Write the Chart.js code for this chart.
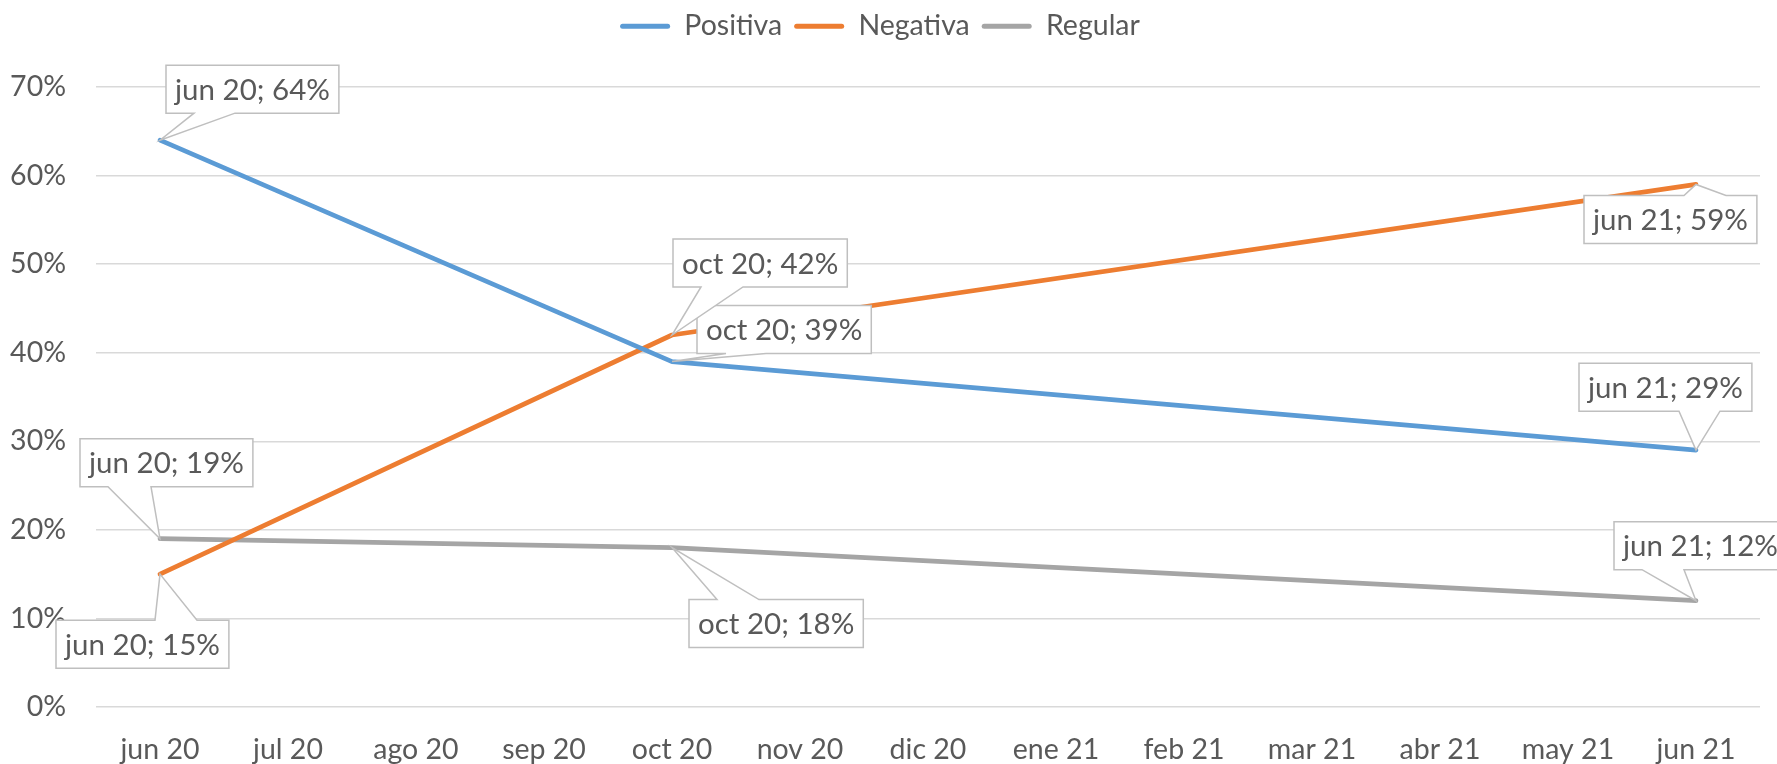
<!DOCTYPE html>
<html>
<head>
<meta charset="utf-8">
<script src="https://cdn.jsdelivr.net/npm/chart.js@4"></script>
<style>
  html, body { margin: 0; padding: 0; background: #ffffff; }
</style>
</head>
<body>
<canvas id="chart-1" width="1777" height="764"></canvas>
<script>
const months = ["jun 20", "jul 20", "ago 20", "sep 20", "oct 20", "nov 20", "dic 20",
                "ene 21", "feb 21", "mar 21", "abr 21", "may 21", "jun 21"];
const positiva = [64, null, null, null, 39, null, null, null, null, null, null, null, 29];
const negativa = [15, null, null, null, 42, null, null, null, null, null, null, null, 59];
const regular  = [19, null, null, null, 18, null, null, null, null, null, null, null, 12];
const yMax = 70;
const yStep = 10;

// where each callout box sits relative to its point: [dx, dy, edge, wedgeA, wedgeB]
const callouts = [
    { 0: [6, -75, "bottom", 34, 75], 4: [25, -56, "bottom", 54, 94], 12: [-117, -87, "bottom", -17, 24] },
    { 0: [-104, 46, "top", -5, 37], 4: [1, -96, "bottom", 29, 71], 12: [-112, 11, "top", -12, 30] },
    { 0: [-80, -100, "bottom", -52, -9], 4: [17, 52, "top", 45, 87], 12: [-82, -79, "bottom", -54, -12] },
];

const FONT = "Lato, 'Noto Sans', sans-serif";
const TEXT = "#595959";

const legendSpace = {
    id: "legendSpace",
    afterInit(chart) {
        const legend = chart.legend;
        const fit = legend.fit;
        legend.fit = function () {
            fit.call(this);
            this.height = 87;
        };
    },
};

const calloutPlugin = {
    id: "callouts",
    afterDatasetsDraw(chart) {
        const ctx = chart.ctx;
        ctx.save();
        ctx.font = "29.5px " + FONT;
        chart.data.datasets.forEach((ds, di) => {
            const meta = chart.getDatasetMeta(di);
            ds.data.forEach((v, i) => {
                if (v === null) return;
                const pos = callouts[di][i];
                const pt = meta.data[i];
                const text = chart.data.labels[i] + "; " + v + "%";
                const w = ctx.measureText(text).width + 18;
                const h = 48;
                const x0 = pt.x + pos[0];
                const y0 = pt.y + pos[1];
                const a = pt.x + pos[3];
                const b = pt.x + pos[4];
                ctx.beginPath();
                ctx.moveTo(x0, y0);
                if (pos[2] === "top") {
                    ctx.lineTo(a, y0);
                    ctx.lineTo(pt.x, pt.y);
                    ctx.lineTo(b, y0);
                }
                ctx.lineTo(x0 + w, y0);
                ctx.lineTo(x0 + w, y0 + h);
                if (pos[2] === "bottom") {
                    ctx.lineTo(b, y0 + h);
                    ctx.lineTo(pt.x, pt.y);
                    ctx.lineTo(a, y0 + h);
                }
                ctx.lineTo(x0, y0 + h);
                ctx.closePath();
                ctx.fillStyle = "#ffffff";
                ctx.fill();
                ctx.lineWidth = 1.5;
                ctx.strokeStyle = "#BFBFBF";
                ctx.lineJoin = "miter";
                ctx.stroke();
                ctx.fillStyle = TEXT;
                ctx.textAlign = "center";
                ctx.textBaseline = "middle";
                ctx.fillText(text, x0 + w / 2, y0 + h / 2 + 1);
            });
        });
        ctx.restore();
    },
};

const lineStyle = {
    borderWidth: 4.7,
    pointRadius: 0,
    pointHoverRadius: 0,
    tension: 0,
    spanGaps: true,
    borderCapStyle: "round",
    borderJoinStyle: "round",
};

const ctx1 = document.getElementById("chart-1").getContext("2d");
const myChart = new Chart(ctx1, {
    type: "line",
    data: {
        labels: months,
        datasets: [
            { label: "Positiva", data: positiva, borderColor: "#5B9BD5", backgroundColor: "#5B9BD5", ...lineStyle },
            { label: "Negativa", data: negativa, borderColor: "#ED7D31", backgroundColor: "#ED7D31", ...lineStyle },
            { label: "Regular", data: regular, borderColor: "#A5A5A5", backgroundColor: "#A5A5A5", ...lineStyle },
        ],
    },
    options: {
        responsive: false,
        animation: false,
        layout: { padding: { left: 0, right: 17, top: 0, bottom: 0 } },
        plugins: {
            tooltip: { enabled: false },
            legend: {
                position: "top",
                labels: {
                    color: TEXT,
                    font: { family: FONT, size: 28.5 },
                    boxWidth: 50,
                    boxHeight: 5,
                    padding: 12,
                    generateLabels(chart) {
                        return chart.data.datasets.map((ds, i) => ({
                            text: ds.label,
                            fillStyle: ds.borderColor,
                            strokeStyle: ds.borderColor,
                            lineWidth: 0,
                            borderRadius: 2.5,
                            fontColor: TEXT,
                            hidden: false,
                            datasetIndex: i,
                        }));
                    },
                },
            },
        },
        scales: {
            x: {
                offset: true,
                grid: { display: false },
                border: { display: false },
                ticks: {
                    color: TEXT,
                    font: { family: FONT, size: 28.5 },
                    padding: 18,
                    maxRotation: 0,
                    autoSkip: false,
                },
                afterFit(scale) { scale.height = 57; },
            },
            y: {
                min: 0,
                max: yMax,
                grid: { color: "#D9D9D9", lineWidth: 1.5, drawTicks: false },
                border: { display: false },
                ticks: {
                    stepSize: yStep,
                    color: TEXT,
                    font: { family: FONT, size: 28.5 },
                    padding: 30,
                    callback: (v) => v + "%",
                },
                afterFit(scale) { scale.width = 96; },
            },
        },
    },
    plugins: [legendSpace, calloutPlugin],
});
</script>
</body>
</html>
